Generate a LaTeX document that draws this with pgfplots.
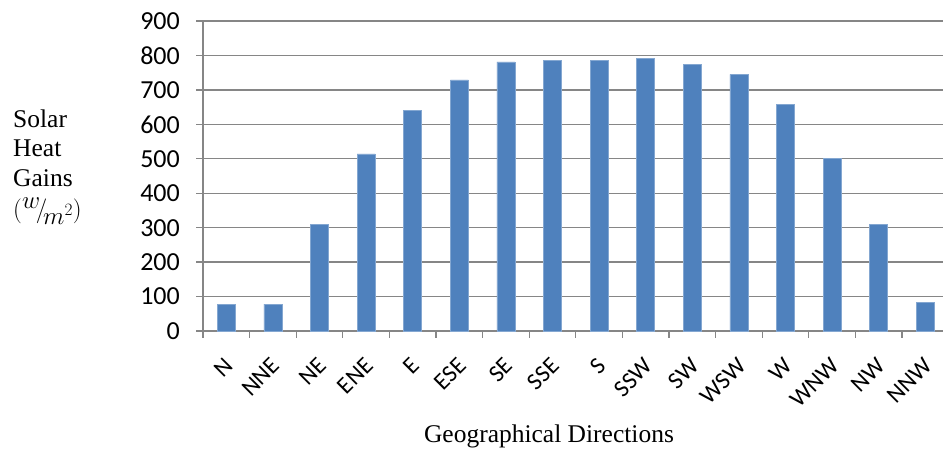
\documentclass[border=0pt]{standalone}
\usepackage{pgfplots}
\pgfplotsset{compat=1.18}
\usepackage{fontspec}
\setmainfont{Liberation Serif}
\newfontfamily\calfont{Carlito}
\definecolor{barblue}{HTML}{4F81BD}
\definecolor{gridgray}{HTML}{868686}
\begin{document}
\begin{tikzpicture}
\useasboundingbox (-203pt,-126pt) rectangle (740pt,331pt);
\begin{axis}[
  at={(0pt,0pt)}, anchor=south west,
  scale only axis,
  width=740pt, height=310pt,
  xmin=-0.5, xmax=15.38,
  ymin=0, ymax=900,
  ytick={0,100,...,900},
  xtick={0,...,15},
  xticklabels={N,NNE,NE,ENE,E,ESE,SE,SSE,S,SSW,SW,WSW,W,WNW,NW,NNW},
  minor xtick={-0.5,0.5,...,15},
  axis x line*=bottom,
  axis y line*=left,
  axis line style={gridgray, line width=1.3pt, -},
  ymajorgrids,
  major grid style={gridgray, line width=1.3pt},
  tick align=outside,
  major tick length=7pt,
  minor tick length=7pt,
  x tick style={draw=none},
  minor x tick style={draw=gridgray, line width=1.3pt},
  y tick style={gridgray, line width=1.3pt},
  /pgf/number format/assume math mode=true,
  yticklabel style={font=\calfont\fontsize{26}{28}\selectfont, text=black, anchor=east, inner sep=0pt, xshift=-16pt},
  xticklabel style={font=\calfont\fontsize{24}{26}\selectfont, text=black, xshift=3pt, yshift=-24pt, rotate=45, anchor=east, inner sep=0pt},
  xticklabel shift=0pt,
  yticklabel shift=0pt,
  ybar, bar width=18pt, bar shift=0pt,
  clip=false,
]
\addplot[fill=barblue, draw=barblue!70!white, line width=0.6pt] coordinates {
(0,78) (1,78) (2,309) (3,514) (4,641) (5,729) (6,781) (7,786)
(8,786) (9,792) (10,774) (11,745) (12,658) (13,501) (14,309) (15,83)
};
\end{axis}
\node[anchor=base west, inner sep=0pt] at (-190pt,203pt) {\fontsize{25.5}{29}\selectfont Solar};
\node[anchor=base west, inner sep=0pt] at (-190pt,174pt) {\fontsize{25.5}{29}\selectfont Heat};
\node[anchor=base west, inner sep=0pt] at (-190pt,144pt) {\fontsize{25.5}{29}\selectfont Gains};
\node[anchor=base west, inner sep=0pt] at (-190pt,113pt) {\fontsize{27}{29}\selectfont $(\raisebox{0.36em}{$w$}\!\Big/\!\raisebox{-0.25em}{$m^{2}$})$};
\node[anchor=base, inner sep=0pt] at (346pt,-112pt) {\fontsize{25.5}{29}\selectfont Geographical Directions};
\end{tikzpicture}
\end{document}
